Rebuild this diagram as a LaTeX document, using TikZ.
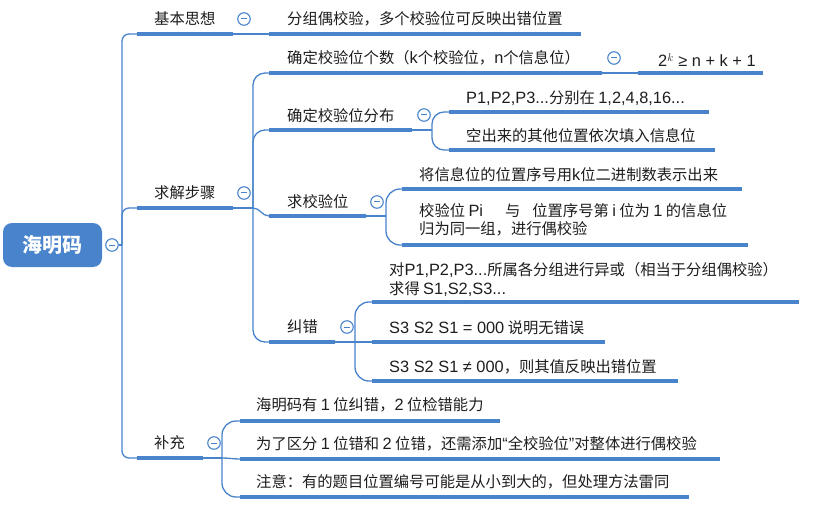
\documentclass[tikz,border=0pt]{standalone}
\usepackage{fontspec}
\setmainfont{Noto Sans CJK SC}
\newfontfamily\latf[Scale=1.07]{Liberation Sans}
\newcommand{\lt}[1]{{\latf #1}}
\definecolor{mblue}{RGB}{72,131,204}
\definecolor{txtc}{RGB}{30,30,30}
\begin{document}
\begin{tikzpicture}[x=1pt,y=-1pt,
  txt/.style={font=\fontsize{15.3}{18.5}\selectfont, inner sep=0pt, anchor=west, text=txtc, align=left},
  uline/.style={line width=3.6pt, draw=mblue},
  conn/.style={line width=1.3pt, draw=mblue},
  minusc/.style={circle, draw=mblue, fill=white, line width=1.1pt, minimum size=12.5pt, inner sep=0pt,
    path picture={\draw[mblue, line width=1pt] ([xshift=-3pt]path picture bounding box.center) -- ([xshift=3pt]path picture bounding box.center);}},
  rootbox/.style={rectangle, rounded corners=9pt, fill=mblue, text=white, minimum width=99pt, minimum height=44pt, inner sep=0pt, font=\fontsize{20}{24}\selectfont\bfseries}
]
\useasboundingbox[fill=white] (0,0) rectangle (816,505);

% root
\node[rootbox] (root) at (52.5,245) {海明码};
\node[minusc] (rm) at (112,245) {};
\coordinate (sp) at (122,245);

% level 1 underline coordinates
\coordinate (jb-s) at (137,34);  \coordinate (jb-e) at (233,34);
\coordinate (qj-s) at (137,208); \coordinate (qj-e) at (233,208);
\coordinate (bc-s) at (137,458); \coordinate (bc-e) at (203,458);

% level 2
\coordinate (fz-s) at (269,34);  \coordinate (fz-e) at (581,34);
\coordinate (gs-s) at (269,73);  \coordinate (gs-e) at (602,73);
\coordinate (gk-s) at (638,73);  \coordinate (gk-e) at (763,73);
\coordinate (fb-s) at (269,130); \coordinate (fb-e) at (412,130);
\coordinate (p1-s) at (449,112); \coordinate (p1-e) at (709,112);
\coordinate (kc-s) at (449,150); \coordinate (kc-e) at (715,150);
\coordinate (qw-s) at (269,216); \coordinate (qw-e) at (366,216);
\coordinate (jx-s) at (402,189); \coordinate (jx-e) at (742,189);
\coordinate (jy-s) at (402,245); \coordinate (jy-e) at (748,245);
\coordinate (jc-s) at (269,342); \coordinate (jc-e) at (335,342);
\coordinate (dp-s) at (372,302); \coordinate (dp-e) at (799,302);
\coordinate (s0-s) at (372,342); \coordinate (s0-e) at (605,342);
\coordinate (s1-s) at (372,381); \coordinate (s1-e) at (678,381);
\coordinate (h1-s) at (240,421); \coordinate (h1-e) at (500,421);
\coordinate (h2-s) at (240,459); \coordinate (h2-e) at (720,459);
\coordinate (h3-s) at (240,497); \coordinate (h3-e) at (689,497);

% hubs
\coordinate (qj-h) at (253,208);
\coordinate (fb-h) at (432,130);
\coordinate (qw-h) at (386,216);
\coordinate (jc-h) at (355,342);
\coordinate (bc-h) at (222,458);

% connectors
\draw[conn] (rm) -- (sp);
\draw[conn, rounded corners=7pt] (sp) |- (jb-s);
\draw[conn, rounded corners=7pt] (sp) |- (qj-s);
\draw[conn, rounded corners=7pt] (sp) |- (bc-s);

\draw[conn] (jb-e) -- (fz-s);

\draw[conn] (qj-e) -- (qj-h);
\draw[conn, rounded corners=12pt] (qj-h) |- (gs-s);
\draw[conn, rounded corners=12pt] (qj-h) |- (fb-s);
\draw[conn] (qj-h) to[out=0,in=180] (qw-s);
\draw[conn, rounded corners=12pt] (qj-h) |- (jc-s);

\draw[conn] (gs-e) -- (gk-s);

\draw[conn] (fb-e) -- (fb-h);
\draw[conn, rounded corners=12pt] (fb-h) |- (p1-s);
\draw[conn, rounded corners=12pt] (fb-h) |- (kc-s);

\draw[conn] (qw-e) -- (qw-h);
\draw[conn, rounded corners=14pt] (qw-h) |- (jx-s);
\draw[conn, rounded corners=14pt] (qw-h) |- (jy-s);

\draw[conn] (jc-e) -- (s0-s);
\draw[conn, rounded corners=14pt] (jc-h) |- (dp-s);
\draw[conn, rounded corners=14pt] (jc-h) |- (s1-s);

\draw[conn] (bc-e) -- (bc-h);
\draw[conn, rounded corners=14pt] (bc-h) |- (h1-s);
\draw[conn] (bc-h) to[out=0,in=180] (h2-s);
\draw[conn, rounded corners=14pt] (bc-h) |- (h3-s);

% underlines
\foreach \u in {jb,qj,bc,fz,gs,gk,fb,p1,kc,qw,jx,jy,jc,dp,s0,s1,h1,h2,h3}
  \draw[uline] (\u-s) -- (\u-e);

% minus markers
\node[minusc] (m-jb) at (244,19) {};
\node[minusc] (m-qj) at (244,193) {};
\node[minusc] (m-bc) at (214,443) {};
\node[minusc] (m-gs) at (614,58) {};
\node[minusc] (m-fb) at (424,115) {};
\node[minusc] (m-qw) at (377,202) {};
\node[minusc] (m-jc) at (347,327) {};

% texts
\node[txt] (t-jb) at (154,19) {基本思想};
\node[txt] (t-qj) at (154,193) {求解步骤};
\node[txt] (t-bc) at (154,443) {补充};
\node[txt] (t-fz) at (287,19) {分组偶校验，多个校验位可反映出错位置};
\node[txt] (t-gs) at (287,58) {确定校验位个数（\lt{k}个校验位，\lt{n}个信息位）};
\node[txt] (t-gk) at (658,60) {\lt{2$^{k}$ ≥ n + k + 1}};
\node[txt] (t-fb) at (287,116) {确定校验位分布};
\node[txt] (t-p1) at (466,98) {\lt{P1,P2,P3...}分别在 \lt{1,2,4,8,16...}};
\node[txt] (t-kc) at (466,136) {空出来的其他位置依次填入信息位};
\node[txt] (t-qw) at (287,202) {求校验位};
\node[txt] (t-jx) at (419,175) {将信息位的位置序号用\lt{k}位二进制数表示出来};
\node[txt] (t-jy) at (419,220) {校验位 \lt{Pi}\hspace{22pt}与\hspace{12pt}位置序号第 \lt{i} 位为 \lt{1} 的信息位\\归为同一组，进行偶校验};
\node[txt] (t-jc) at (287,327) {纠错};
\node[txt] (t-dp) at (389,279.5) {对\lt{P1,P2,P3...}所属各分组进行异或（相当于分组偶校验）\\求得 \lt{S1,S2,S3...}};
\node[txt] (t-s0) at (389,328) {\lt{S3 S2 S1 = 000} 说明无错误};
\node[txt] (t-s1) at (389,367) {\lt{S3 S2 S1 ≠ 000}，则其值反映出错位置};
\node[txt] (t-h1) at (256,405) {海明码有 \lt{1} 位纠错，\lt{2} 位检错能力};
\node[txt] (t-h2) at (256,444) {为了区分 \lt{1} 位错和 \lt{2} 位错，还需添加\lt{“}全校验位\lt{”}对整体进行偶校验};
\node[txt] (t-h3) at (256,482) {注意：有的题目位置编号可能是从小到大的，但处理方法雷同};
\end{tikzpicture}
\end{document}
